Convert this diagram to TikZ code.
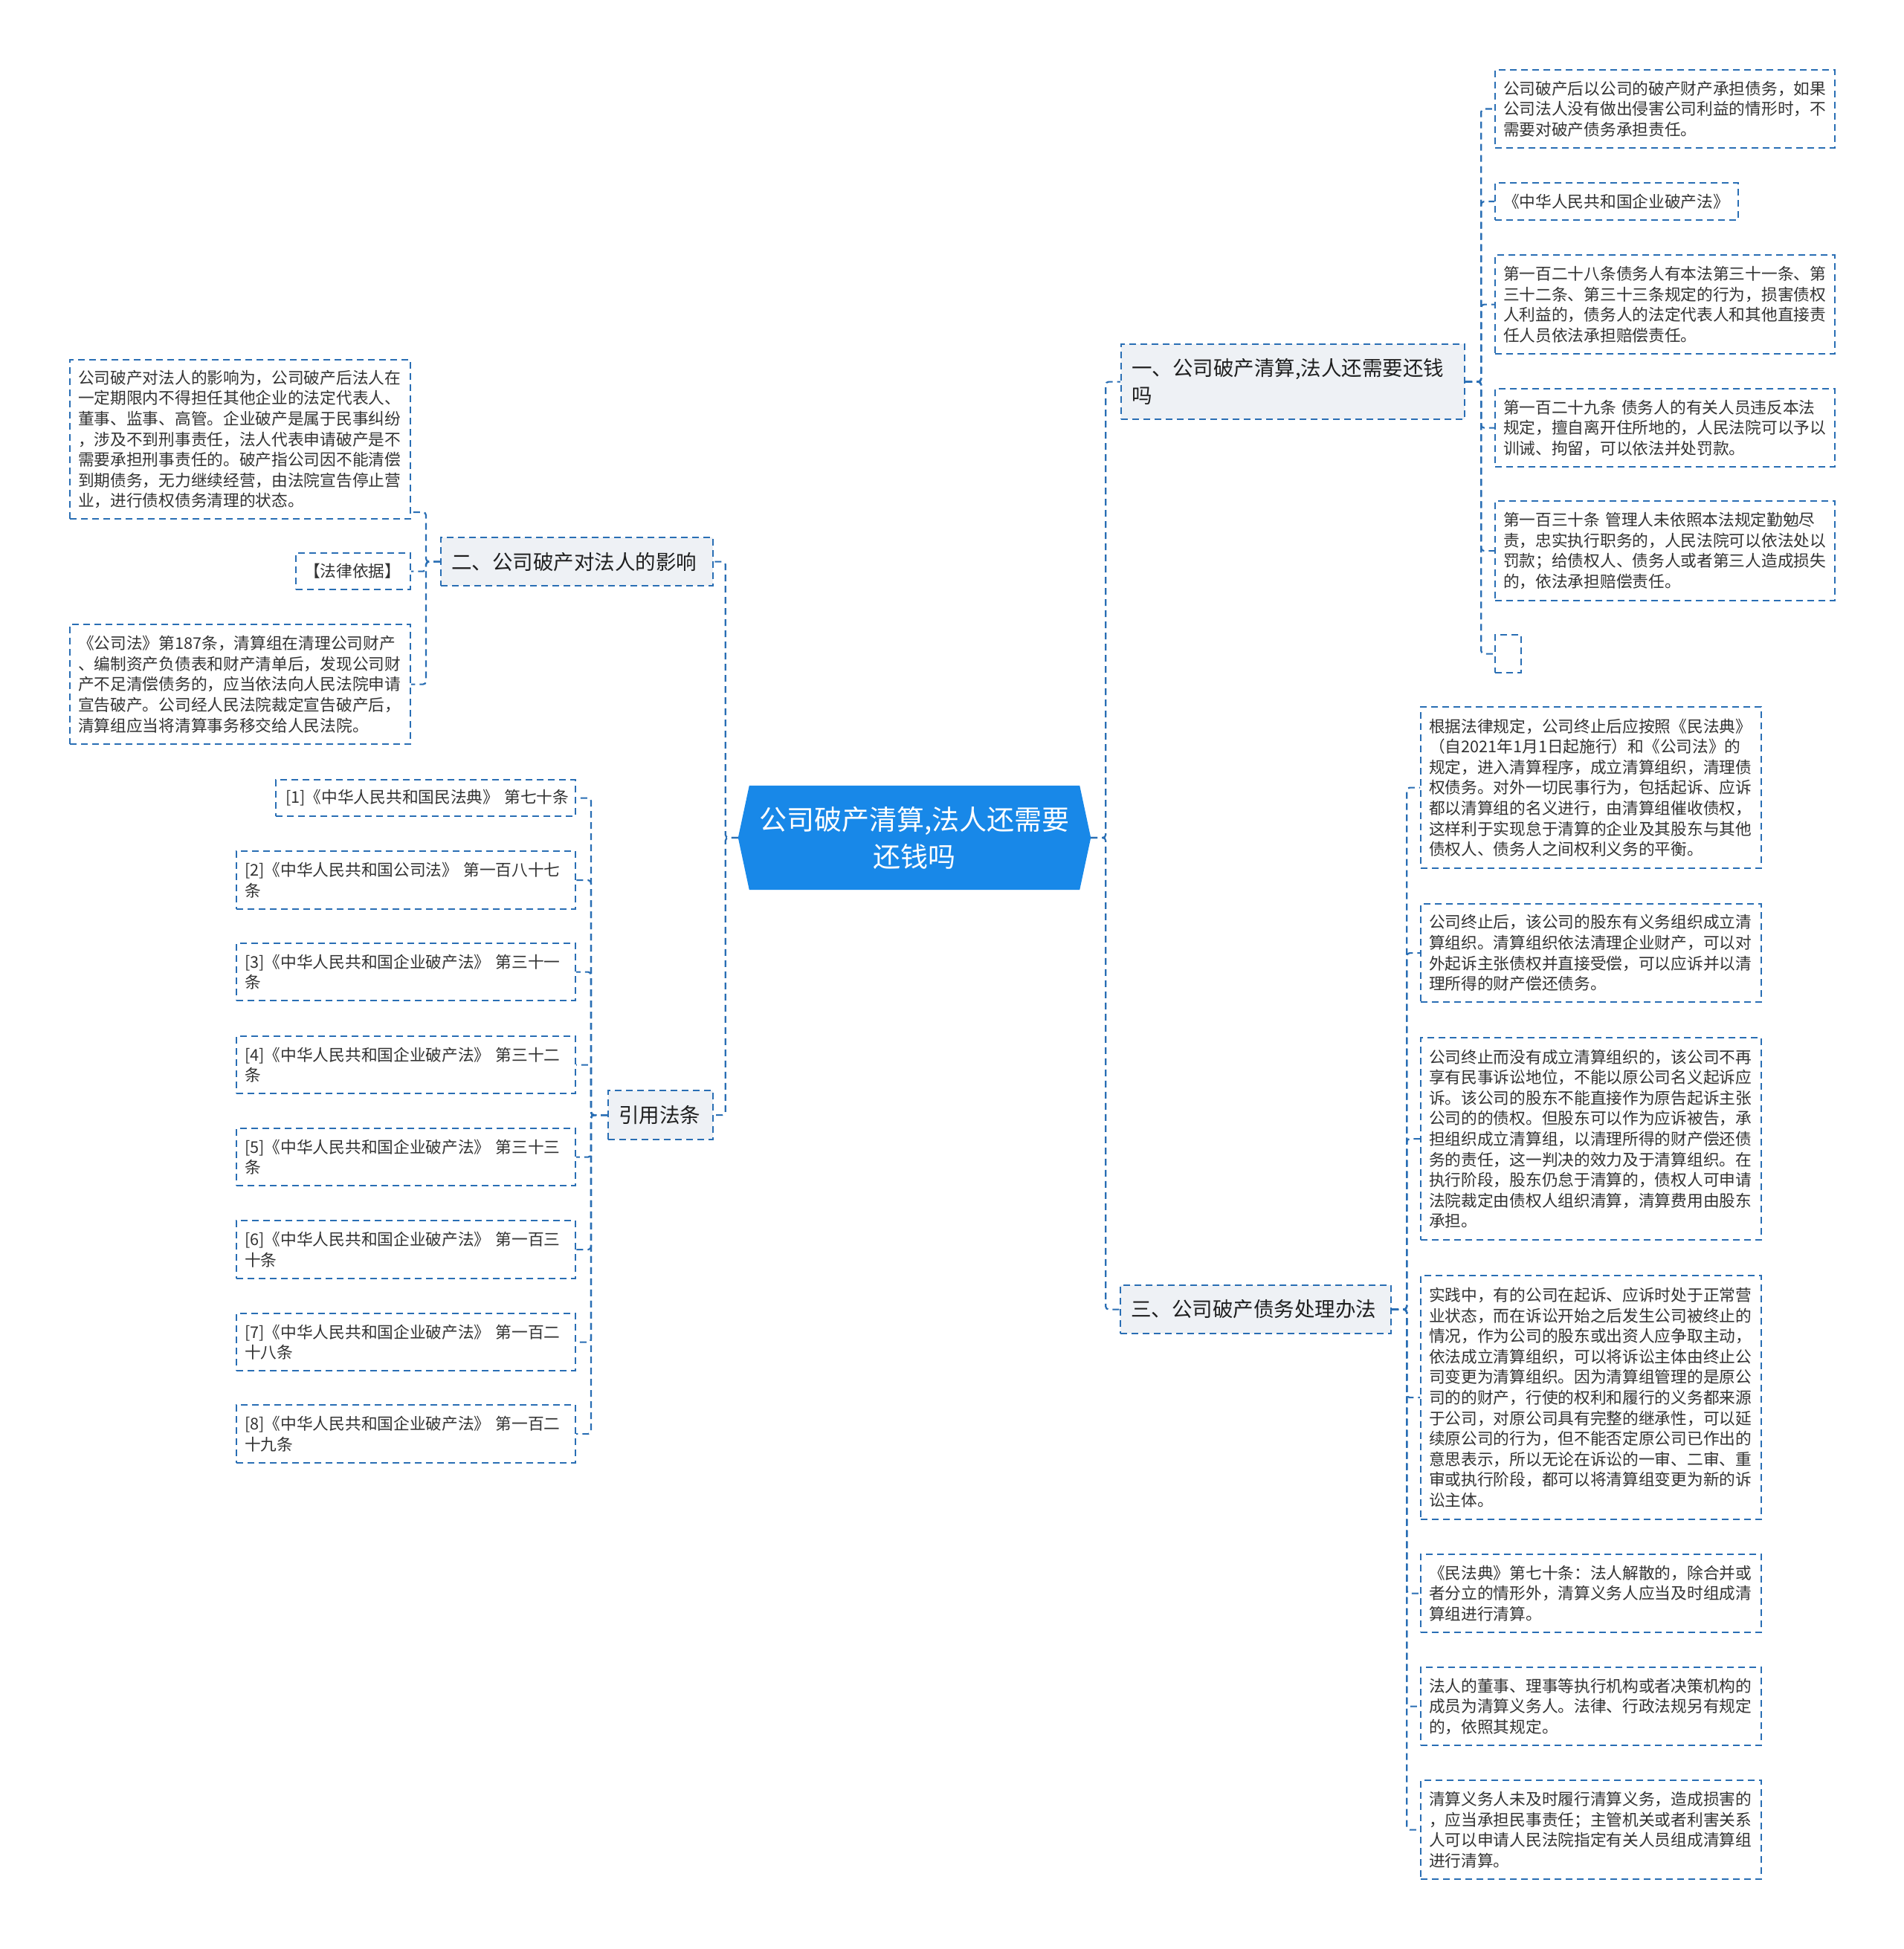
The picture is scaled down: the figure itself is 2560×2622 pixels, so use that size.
\documentclass[tikz,border=0pt]{standalone}
\usepackage{fontspec}
\newfontfamily\cjk{Noto Sans CJK SC}
\usetikzlibrary{backgrounds}
\definecolor{lnc}{RGB}{41,110,180}
\definecolor{hub}{RGB}{24,136,232}
\definecolor{lvf}{RGB}{238,241,245}
\definecolor{txt}{RGB}{51,51,51}
\tikzset{
 leaf/.style={draw=lnc, line width=2.2pt, dash pattern=on 9pt off 6pt, anchor=north west,
   inner xsep=11pt, inner ysep=0pt, align=left, text=txt,
   font=\cjk\fontsize{21.7}{27.6}\selectfont},
 lvl/.style={leaf, fill=lvf, text=black!88, inner xsep=14pt,
   font=\cjk\fontsize{27.5}{37}\selectfont},
 conn/.style={draw=lnc, line width=2.2pt, dash pattern=on 9pt off 6pt, rounded corners=4pt},
 hubtext/.style={text=white, align=center, minimum width=474pt, minimum height=140pt,
   font=\cjk\fontsize{37}{50}\selectfont},
}
\begin{document}
\begin{tikzpicture}[x=1pt,y=-1pt]
\useasboundingbox (0,0) rectangle (2560,2622);

% center
\node[hubtext] (c) at (1230,1127) {公司破产清算,法人还需要\\还钱吗};
\begin{pgfonlayer}{background}
\fill[white] (0,0) rectangle (2560,2622);
\fill[hub] (c.west) -- ([xshift=15pt]c.north west) -- ([xshift=-15pt]c.north east) -- (c.east)
  -- ([xshift=-15pt]c.south east) -- ([xshift=15pt]c.south west) -- cycle;
\end{pgfonlayer}

% level 1
\node[lvl, text width=434pt, minimum height=101pt] (n1) at (1507,462) {一、公司破产清算,法人还需要还钱\\吗};
\node[lvl, text width=338pt, minimum height=65pt] (n2) at (592,722) {二、公司破产对法人的影响};
\node[lvl, text width=336pt, minimum height=65pt] (n3) at (1506,1728) {三、公司破产债务处理办法};
\node[lvl, text width=113pt, minimum height=66pt] (n4) at (817,1466) {引用法条};

% children of n1
\node[leaf, text width=435pt, minimum height=105pt] (r1) at (2010,93) {公司破产后以公司的破产财产承担债务，如果\\公司法人没有做出侵害公司利益的情形时，不\\需要对破产债务承担责任。};
\node[leaf, text width=305pt, minimum height=50pt] (r2) at (2010,245) {《中华人民共和国企业破产法》};
\node[leaf, text width=435pt, minimum height=133pt] (r3) at (2010,342) {第一百二十八条债务人有本法第三十一条、第\\三十二条、第三十三条规定的行为，损害债权\\人利益的，债务人的法定代表人和其他直接责\\任人员依法承担赔偿责任。};
\node[leaf, text width=435pt, minimum height=105pt] (r4) at (2010,522) {第一百二十九条~债务人的有关人员违反本法\\规定，擅自离开住所地的，人民法院可以予以\\训诫、拘留，可以依法并处罚款。};
\node[leaf, text width=435pt, minimum height=134pt] (r5) at (2010,673) {第一百三十条~管理人未依照本法规定勤勉尽\\责，忠实执行职务的，人民法院可以依法处以\\罚款；给债权人、债务人或者第三人造成损失\\的，依法承担赔偿责任。};
\node[leaf, text width=13pt, minimum height=51pt] (r6) at (2010,853) {};

% children of n3
\node[leaf, text width=436pt, minimum height=217pt] (b1) at (1910,950) {根据法律规定，公司终止后应按照《民法典》\\（自2021年1月1日起施行）和《公司法》的\\规定，进入清算程序，成立清算组织，清理债\\权债务。对外一切民事行为，包括起诉、应诉\\都以清算组的名义进行，由清算组催收债权，\\这样利于实现怠于清算的企业及其股东与其他\\债权人、债务人之间权利义务的平衡。};
\node[leaf, text width=436pt, minimum height=132pt] (b2) at (1910,1215) {公司终止后，该公司的股东有义务组织成立清\\算组织。清算组织依法清理企业财产，可以对\\外起诉主张债权并直接受偿，可以应诉并以清\\理所得的财产偿还债务。};
\node[leaf, text width=436pt, minimum height=272pt] (b3) at (1910,1395) {公司终止而没有成立清算组织的，该公司不再\\享有民事诉讼地位，不能以原公司名义起诉应\\诉。该公司的股东不能直接作为原告起诉主张\\公司的的债权。但股东可以作为应诉被告，承\\担组织成立清算组，以清理所得的财产偿还债\\务的责任，这一判决的效力及于清算组织。在\\执行阶段，股东仍怠于清算的，债权人可申请\\法院裁定由债权人组织清算，清算费用由股东\\承担。};
\node[leaf, text width=436pt, minimum height=328pt] (b4) at (1910,1715) {实践中，有的公司在起诉、应诉时处于正常营\\业状态，而在诉讼开始之后发生公司被终止的\\情况，作为公司的股东或出资人应争取主动，\\依法成立清算组织，可以将诉讼主体由终止公\\司变更为清算组织。因为清算组管理的是原公\\司的的财产，行使的权利和履行的义务都来源\\于公司，对原公司具有完整的继承性，可以延\\续原公司的行为，但不能否定原公司已作出的\\意思表示，所以无论在诉讼的一审、二审、重\\审或执行阶段，都可以将清算组变更为新的诉\\讼主体。};
\node[leaf, text width=436pt, minimum height=105pt] (b5) at (1910,2090) {《民法典》第七十条：法人解散的，除合并或\\者分立的情形外，清算义务人应当及时组成清\\算组进行清算。};
\node[leaf, text width=436pt, minimum height=105pt] (b6) at (1910,2242) {法人的董事、理事等执行机构或者决策机构的\\成员为清算义务人。法律、行政法规另有规定\\的，依照其规定。};
\node[leaf, text width=436pt, minimum height=133pt] (b7) at (1910,2394) {清算义务人未及时履行清算义务，造成损害的\\，应当承担民事责任；主管机关或者利害关系\\人可以申请人民法院指定有关人员组成清算组\\进行清算。};

% children of n2
\node[leaf, text width=436pt, minimum height=214pt] (l1) at (93,483) {公司破产对法人的影响为，公司破产后法人在\\一定期限内不得担任其他企业的法定代表人、\\董事、监事、高管。企业破产是属于民事纠纷\\，涉及不到刑事责任，法人代表申请破产是不\\需要承担刑事责任的。破产指公司因不能清偿\\到期债务，无力继续经营，由法院宣告停止营\\业，进行债权债务清理的状态。};
\node[leaf, text width=132pt, minimum height=49pt] (l2) at (397,743) {【法律依据】};
\node[leaf, text width=436pt, minimum height=161pt] (l3) at (93,839) {《公司法》第187条，清算组在清理公司财产\\、编制资产负债表和财产清单后，发现公司财\\产不足清偿债务的，应当依法向人民法院申请\\宣告破产。公司经人民法院裁定宣告破产后，\\清算组应当将清算事务移交给人民法院。};
\coordinate (l1a) at ([yshift=-98pt]l1.east);

% children of n4
\node[leaf, inner xsep=13pt, text width=377pt, minimum height=49pt] (c1) at (370,1048) {[1]《中华人民共和国民法典》~第七十条};
\node[leaf, text width=434pt, minimum height=78pt] (c2) at (317,1144) {[2]《中华人民共和国公司法》~第一百八十七\\条};
\node[leaf, text width=434pt, minimum height=77pt] (c3) at (317,1268) {[3]《中华人民共和国企业破产法》~第三十一\\条};
\node[leaf, text width=434pt, minimum height=77pt] (c4) at (317,1393) {[4]《中华人民共和国企业破产法》~第三十二\\条};
\node[leaf, text width=434pt, minimum height=77pt] (c5) at (317,1517) {[5]《中华人民共和国企业破产法》~第三十三\\条};
\node[leaf, text width=434pt, minimum height=78pt] (c6) at (317,1641) {[6]《中华人民共和国企业破产法》~第一百三\\十条};
\node[leaf, text width=434pt, minimum height=77pt] (c7) at (317,1766) {[7]《中华人民共和国企业破产法》~第一百二\\十八条};
\node[leaf, text width=434pt, minimum height=78pt] (c8) at (317,1889) {[8]《中华人民共和国企业破产法》~第一百二\\十九条};

% connectors
\draw[conn] (c.east) -- ++(20,0) |- (n1.west);
\draw[conn] (c.east) -- ++(20,0) |- (n3.west);
\draw[conn] (c.west) -- ++(-17,0) |- (n2.east);
\draw[conn] (c.west) -- ++(-17,0) |- (n4.east);

\foreach \k in {r1,r2,r3,r4,r5,r6} \draw[conn] (n1.east) -- ++(21,0) |- (\k.west);
\foreach \k in {b1,b2,b3,b4,b5,b6,b7} \draw[conn] (n3.east) -- ++(20,0) |- (\k.west);
\foreach \k in {l1a,l2,l3} \draw[conn] (n2.west) -- ++(-19,0) |- (\k);
\foreach \k in {c1,c2,c3,c4,c5,c6,c7,c8} \draw[conn] (n4.west) -- ++(-22,0) |- (\k.east);
\end{tikzpicture}
\end{document}
